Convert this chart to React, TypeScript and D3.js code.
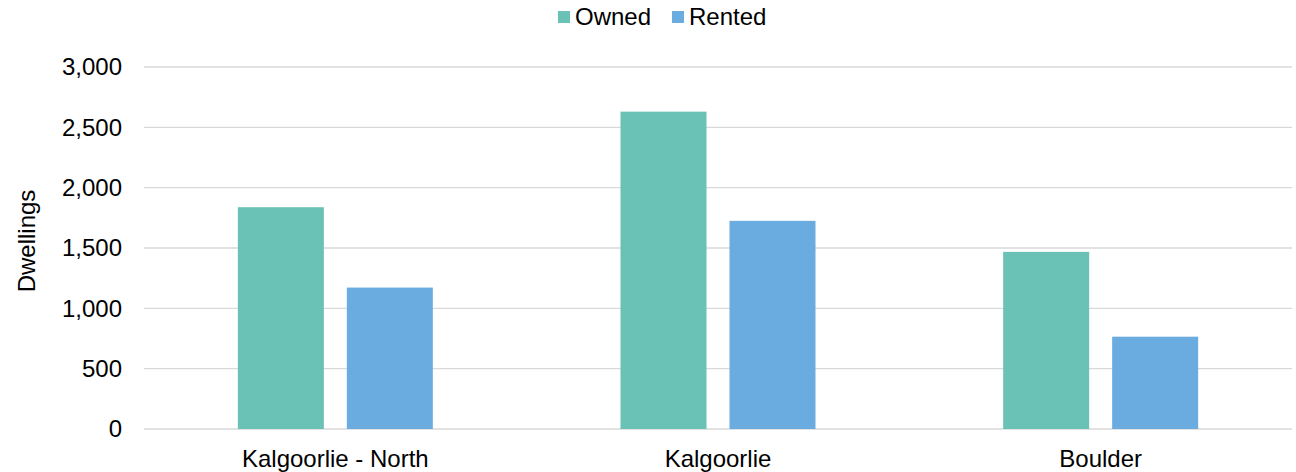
import React from "react";
import * as d3 from "d3";

const categories = ["Kalgoorlie - North", "Kalgoorlie", "Boulder"];
const seriesNames = ["Owned", "Rented"];
const ownedValues = [1838, 2630, 1468];
const rentedValues = [1172, 1725, 765];
const yTicks = [0, 500, 1000, 1500, 2000, 2500, 3000];
const colors = ["#6AC1B5", "#6AACDF"];

export default function App() {
  const width = 1296;
  const height = 472;
  const left = 144;
  const right = 1292;
  const top = 67;
  const bottom = 429;
  const font = "'Liberation Sans', Arial, sans-serif";

  const x0 = d3.scaleBand<string>().domain(categories).range([left, right]).padding(0);
  const x1 = d3
    .scaleBand<string>()
    .domain(seriesNames)
    .range([0, x0.bandwidth()])
    .paddingInner(0.211)
    .paddingOuter(0.861);
  const y = d3.scaleLinear().domain([0, 3000]).range([bottom, top]);
  const fmt = d3.format(",");
  const seriesValues = [ownedValues, rentedValues];

  return (
    <svg width={width} height={height} style={{ position: "absolute", left: 0, top: 0 }} fontFamily={font}>
      <rect width={width} height={height} fill="#fff" />
      {yTicks.map((t) => (
        <g key={t}>
          <line x1={left} x2={right} y1={y(t)} y2={y(t)} stroke="#d9d9d9" strokeWidth={1.3} />
          <text x={122} y={y(t)} dy="0.35em" textAnchor="end" fontSize={24} fill="#000">
            {fmt(t)}
          </text>
        </g>
      ))}
      {seriesNames.map((s, si) =>
        categories.map((c, ci) => (
          <rect
            key={s + c}
            x={(x0(c) ?? 0) + (x1(s) ?? 0)}
            y={y(seriesValues[si][ci])}
            width={x1.bandwidth()}
            height={bottom - y(seriesValues[si][ci])}
            fill={colors[si]}
          />
        ))
      )}
      {categories.map((c) => (
        <text key={c} x={(x0(c) ?? 0) + x0.bandwidth() / 2} y={467} textAnchor="middle" fontSize={24} fill="#000">
          {c}
        </text>
      ))}
      <text transform={`translate(35,241) rotate(-90)`} textAnchor="middle" fontSize={24} fill="#000">
        Dwellings
      </text>
      <g>
        <rect x={558} y={11} width={12} height={12} fill={colors[0]} />
        <text x={575} y={25} fontSize={24} fill="#000">Owned</text>
        <rect x={672} y={11} width={12} height={12} fill={colors[1]} />
        <text x={689} y={25} fontSize={24} fill="#000">Rented</text>
      </g>
    </svg>
  );
}
